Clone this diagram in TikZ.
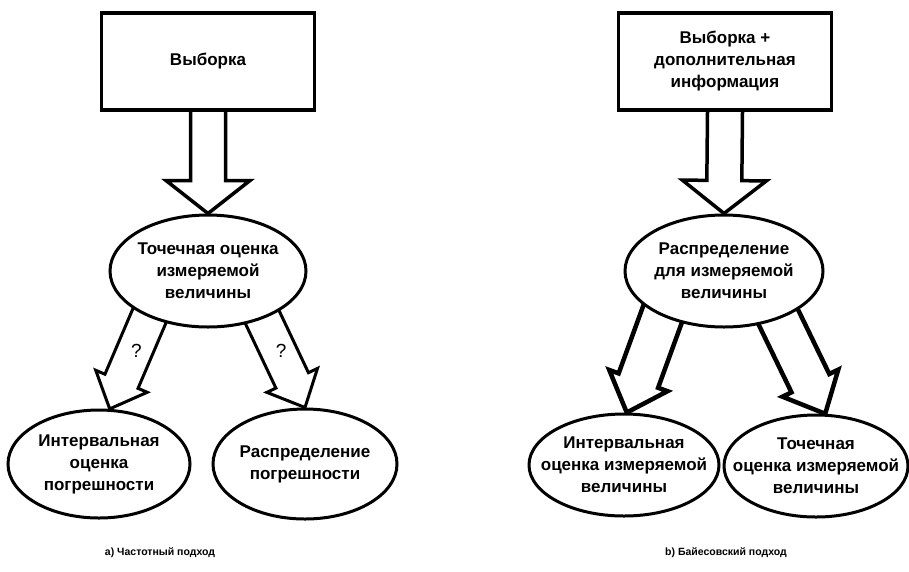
\documentclass[tikz,border=0pt]{standalone}
\usepackage{fontspec}
\setmainfont{Liberation Sans}
\usetikzlibrary{calc, shapes.geometric}

\pgfdeclarelayer{back}
\pgfsetlayers{back,main}

\tikzset{
  box/.style={draw, line width=3.5pt, fill=white, minimum width=213, minimum height=97, align=center},
  oval/.style 2 args={draw, ellipse, line width=3pt, fill=white, inner sep=0pt, minimum width=#1, minimum height=#2},
  blk/.style n args={3}{line width=3.5pt, fill=white, line join=miter, to path={
    ($(\tikztostart)!-15pt!(\tikztotarget)$) coordinate (t0)
    ($(\tikztotarget)!#3!(\tikztostart)$) coordinate (h0)
    ($(t0)!#1!90:(\tikztotarget)$) -- ($(h0)!#1!90:(\tikztotarget)$) -- ($(h0)!#2!90:(\tikztotarget)$)
    -- (\tikztotarget) -- ($(h0)!#2!-90:(\tikztotarget)$) -- ($(h0)!#1!-90:(\tikztotarget)$)
    -- ($(t0)!#1!-90:(\tikztotarget)$)}},
  capt/.style={font=\fontsize{10.5}{13}\selectfont\bfseries},
  qmark/.style={font=\fontsize{19}{20}\selectfont},
}

\begin{document}
\begin{tikzpicture}[x=1pt, y=-1pt, font=\fontsize{17}{22}\selectfont\bfseries]
\useasboundingbox (0,0) rectangle (909,571);

% a) frequentist
\node[box] (smp1) at (208,61.5) {Выборка};
\node[oval={196}{112}, label={[align=center]center:Точечная оценка\\измеряемой\\величины}] (pt1) at (208,271) {};
\node[oval={182}{108}, label={[align=center]center:Интервальная\\оценка\\погрешности}] (io1) at (99,464) {};
\node[oval={184}{110}, label={[align=center]center:Распределение\\погрешности}] (dp1) at (305,464) {};

% b) bayesian
\node[box] (smp2) at (725,61.5) {Выборка +\\дополнительная\\информация};
\node[oval={198}{112}, label={[align=center]center:Распределение\\для измеряемой\\величины}] (ds2) at (724,271) {};
\node[oval={190}{102}, label={[align=center]center:Интервальная\\оценка измеряемой\\величины}] (io2) at (624,465) {};
\node[oval={184}{102}, label={[align=center]center:Точечная\\оценка измеряемой\\величины}] (im2) at (816,466) {};

\begin{pgfonlayer}{back}
\draw[blk={17.5pt}{42pt}{33pt}] (smp1.south) to (pt1.north);
\draw[blk={17.5pt}{42pt}{33pt}] (smp2.south) to (ds2.north);
\draw[blk={18pt}{28pt}{30pt}, line width=3pt] (pt1.218) to (io1.79);
\draw[blk={18pt}{28pt}{30pt}, line width=3pt] (pt1.319) to (dp1.north);
\draw[blk={21pt}{31pt}{34pt}, line width=4.5pt] (ds2.216) to (io2.87);
\draw[blk={21pt}{31pt}{34pt}, line width=4.5pt] (ds2.319) to (im2.80);
\end{pgfonlayer}

\node[qmark] (q1) at ($(pt1.218)!.37!(io1.79)+(2,0)$) {?};
\node[qmark] (q2) at ($(pt1.319)!.36!(dp1.north)+(3,0)$) {?};

\node[capt] (ca) at (160,553) {а) Частотный подход};
\node[capt] (cb) at (726,553) {b) Байесовский подход};
\end{tikzpicture}
\end{document}
